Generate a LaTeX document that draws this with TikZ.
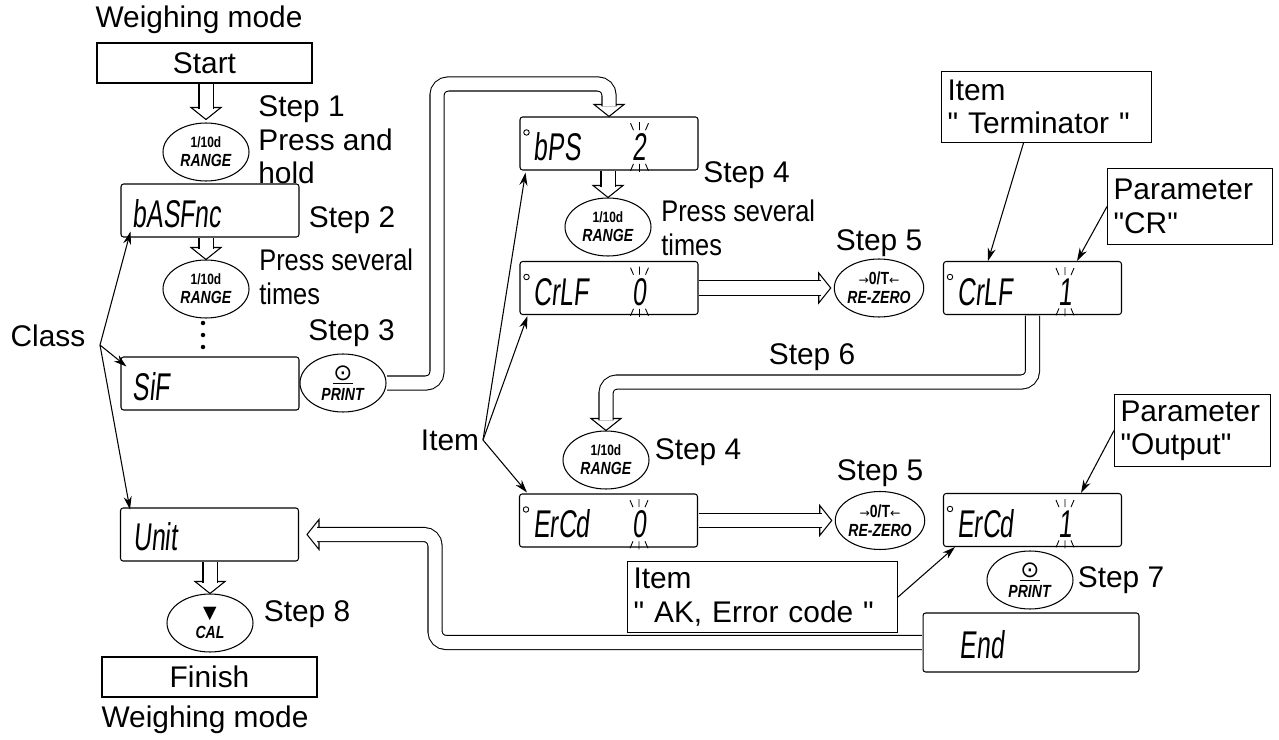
\documentclass[tikz,border=0pt]{standalone}
\usepackage{fontspec}
\setmainfont{Liberation Sans}[Ligatures=TeXOff]
\newfontfamily\narrowfont[FakeStretch=0.85]{Liberation Sans}
\newfontfamily\lcdfont[FakeStretch=0.64, FakeSlant=0.1]{Liberation Sans}
\newfontfamily\keyfont[FakeStretch=0.8]{Liberation Sans}
\newfontfamily\symfont{DejaVu Sans}
\usetikzlibrary{shapes.geometric, arrows.meta, positioning}
\tikzset{
	txt/.style={
		inner sep=0pt,
		font=\fontsize{17}{19}\selectfont
	},
	modebox/.style={
		rectangle,
		draw=black,
		line width=0.6pt,
		minimum width=4.3cm,
		minimum height=0.8cm,
		inner sep=0pt,
		font=\fontsize{17}{19}\selectfont
	},
	display/.style={
		rectangle,
		rounded corners=1.5pt,
		draw=black,
		line width=0.6pt,
		minimum width=3.56cm,
		minimum height=1.06cm,
		inner sep=0pt
	},
	lcd/.style={
		inner sep=0pt,
		anchor=base west,
		font=\lcdfont\fontsize{22}{22}\selectfont
	},
	key/.style={
		ellipse,
		draw=black,
		line width=0.6pt,
		minimum width=1.72cm,
		minimum height=1.16cm,
		inner sep=0pt,
		align=center,
		font=\keyfont\bfseries\fontsize{10}{11}\selectfont
	},
	note/.style={
		rectangle,
		draw=black,
		line width=0.6pt,
		anchor=north west,
		align=left,
		inner xsep=0.12cm,
		inner ysep=0.1cm,
		font=\fontsize{17}{19}\selectfont
	},
	arrow/.style={
		-{Stealth[length=0.26cm, width=0.16cm]},
		line width=0.6pt
	},
	hollow/.style={
		line width=0.6pt,
		double=white,
		double distance=7.4pt,
		rounded corners=0.22cm,
		shorten <=0.4pt
	},
	blink/.style={
		line width=0.5pt
	},
	head/.pic={
		\draw[line width=0.6pt, fill=white] (-15,-12) -- (15,-12) -- (0,0) -- cycle;
	}
}
\newcommand{\blinkmarks}[1]{%
	\draw[blink] ([shift={(0,-3)}]#1.north) -- ++(0,-8)
		([shift={(-6,-3)}]#1.north) -- ++(-3,-7)
		([shift={(6,-3)}]#1.north) -- ++(3,-7)
		([shift={(0,3)}]#1.south) -- ++(0,8)
		([shift={(-6,3)}]#1.south) -- ++(-3,7)
		([shift={(6,3)}]#1.south) -- ++(3,7);}

\begin{document}
\begin{tikzpicture}[x=0.02cm, y=-0.02cm]
	\useasboundingbox (0,0) rectangle (1279,740);

	% left column
	\node[txt] (modeA) at (199,20) {Weighing mode};
	\node[modebox] (start) at (204.5,63) {Start};
	\node[key] (rng1) at (206,152) {{\fontsize{8.5}{9}\selectfont 1/10d}\\\textit{RANGE}};
	\node[txt, anchor=west, align=left] (step1) at (258,140) {Step 1\\Press and\\hold};
	\node[display] (basf) at (210,210.5) {};
	\node[txt, right=0.18cm of basf, yshift=-0.2cm] (step2) {Step 2};
	\node[key] (rng2) at (206,289) {{\fontsize{8.5}{9}\selectfont 1/10d}\\\textit{RANGE}};
	\node[txt, anchor=west, align=left, font=\narrowfont\fontsize{17}{19}\selectfont] (press2) at (259,277) {Press several\\times};
	\foreach \y in {323,335,347}
		\fill (203,\y) circle (0.045cm);
	\node[txt, anchor=west] (step3) at (308,333) {Step 3};
	\node[display] (sif) at (210,383.5) {};
	\node[key] (prt1) at (343,383) {{\symfont\mdseries\fontsize{13}{12}\selectfont\underline{⊙}}\\\textit{PRINT}};
	\node[txt] (class) at (48,336) {Class};
	\coordinate (classfork) at (100,345);
	\node[display] (unit) at (209.5,534.5) {};
	\node[key] (cal) at (210,623) {{\symfont\mdseries ▼}\\\textit{CAL}};
	\node[txt, right=0.2cm of cal, yshift=0.18cm] (step8) {Step 8};
	\node[modebox] (finish) at (209.5,677) {Finish};
	\node[txt] (modeB) at (205,720) {Weighing mode};

	% middle column
	\node[display] (bps) at (609,143.5) {};
	\node[txt, anchor=west] (step4a) at (703,175) {Step 4};
	\node[txt, anchor=west, align=left, font=\narrowfont\fontsize{17}{19}\selectfont] (press4) at (661,228) {Press several\\times};
	\node[key] (rng3) at (608,227) {{\fontsize{8.5}{9}\selectfont 1/10d}\\\textit{RANGE}};
	\node[display] (crlf0) at (609,288) {};
	\node[txt] (step5a) at (879,243) {Step 5};
	\node[key] (rez1) at (879,288) {{\symfont\mdseries\fontsize{7}{8}\selectfont →}0/T{\symfont\mdseries\fontsize{7}{8}\selectfont ←}\\\textit{RE-ZERO}};
	\node[txt] (step6) at (812,357) {Step 6};
	\node[key] (rng4) at (606,460) {{\fontsize{8.5}{9}\selectfont 1/10d}\\\textit{RANGE}};
	\node[txt, right=0.1cm of rng4, yshift=0.16cm] (step4b) {Step 4};
	\node[txt] (item) at (450,440) {Item};
	\coordinate (itemfork) at (483,440);
	\node[display] (ercd0) at (608.5,520.5) {};
	\node[txt] (step5b) at (880,473) {Step 5};
	\node[key] (rez2) at (880,520.5) {{\symfont\mdseries\fontsize{7}{8}\selectfont →}0/T{\symfont\mdseries\fontsize{7}{8}\selectfont ←}\\\textit{RE-ZERO}};
	\node[note, text width=5.16cm, minimum height=1.42cm] (itemak) at (627,561) {Item\\" AK, Error code "};

	% right column
	\node[note, text width=3.96cm, minimum height=1.42cm] (term) at (941,71) {Item\\" Terminator "};
	\node[note, text width=3.06cm, minimum height=1.52cm] (parcr) at (1107,168) {Parameter\\"CR"};
	\node[display] (crlf1) at (1032.5,288) {};
	\node[note, text width=2.88cm, minimum height=1.44cm] (parout) at (1114,394) {Parameter\\"Output"};
	\node[display] (ercd1) at (1032.5,520) {};
	\node[key] (prt2) at (1030,580) {{\symfont\mdseries\fontsize{13}{12}\selectfont\underline{⊙}}\\\textit{PRINT}};
	\node[txt, right=0.08cm of prt2] (step7) {Step 7};
	\node[display, minimum width=4.32cm, minimum height=1.18cm] (end) at (1031,642.5) {};

	% display texts
	\node[lcd] (basfT) at ([shift={(12,-10)}]basf.south west) {bASFnc};
	\node[lcd] (sifT) at ([shift={(12,-10)}]sif.south west) {SiF};
	\node[lcd] (unitT) at ([shift={(13,-11)}]unit.south west) {Unit};
	\node[lcd] (bpsT) at ([shift={(14,-10)}]bps.south west) {bPS};
	\node[lcd, anchor=base] (bpsD) at ([shift={(120,-10)}]bps.south west) {2};
	\node[lcd] (crlf0T) at ([shift={(14,-10)}]crlf0.south west) {CrLF};
	\node[lcd, anchor=base] (crlf0D) at ([shift={(120,-10)}]crlf0.south west) {0};
	\node[lcd] (crlf1T) at ([shift={(14,-10)}]crlf1.south west) {CrLF};
	\node[lcd, anchor=base] (crlf1D) at ([shift={(122,-10)}]crlf1.south west) {1};
	\node[lcd] (ercd0T) at ([shift={(14,-10)}]ercd0.south west) {ErCd};
	\node[lcd, anchor=base] (ercd0D) at ([shift={(120,-10)}]ercd0.south west) {0};
	\node[lcd] (ercd1T) at ([shift={(14,-10)}]ercd1.south west) {ErCd};
	\node[lcd, anchor=base] (ercd1D) at ([shift={(122,-10)}]ercd1.south west) {1};
	\node[lcd] (endT) at ([shift={(37,-14)}]end.south west) {End};
	\foreach \d in {bps,crlf0,crlf1,ercd0,ercd1}
		\draw[line width=0.5pt] ([shift={(7,16)}]\d.north west) circle (0.055cm);
	\foreach \d in {bpsD,crlf0D,crlf1D,ercd0D,ercd1D}
		{\blinkmarks{\d}}

	% hollow arrows
	\pic at ([shift={(0,-3)}]rng1.north) {head};
	\draw[hollow] (start.south -| rng1) -- ([shift={(0,-13)}]rng1.north);
	\pic at (rng2.north) {head};
	\draw[hollow] (basf.south -| rng2) -- ([shift={(0,-10)}]rng2.north);
	\pic at (cal.north) {head};
	\draw[hollow] (unit.south -| cal) -- ([shift={(0,-10)}]cal.north);
	\pic at (rng3.north) {head};
	\draw[hollow] (bps.south -| rng3) -- ([shift={(0,-10)}]rng3.north);
	\pic[rotate=90] at ([shift={(-3,0)}]rez1.west) {head};
	\draw[hollow] (crlf0.east) -- ([shift={(-13,0)}]rez1.west);
	\pic[rotate=90] at ([shift={(-3,0)}]rez2.west) {head};
	\draw[hollow] (ercd0.east) -- ([shift={(-13,0)}]rez2.west);

	% step 3: print goes over to the baud rate item
	\coordinate (loop3) at (437,84);
	\pic at (bps.north) {head};
	\draw[hollow] (prt1.east) -| (loop3) -| ([shift={(0,-10)}]bps.north);

	% step 6: back to the next item
	\coordinate (loop6) at (800,382);
	\pic at (rng4.north) {head};
	\draw[hollow] (crlf1.south) |- (loop6) -| ([shift={(0,-10)}]rng4.north);

	% end returns to the unit class
	\coordinate (back) at (435,536);
	\pic[rotate=-90] at ([shift={(8,0)}]unit.east) {head};
	\draw[hollow] (end.west) -| (back |- unit.east) -- ([shift={(18,0)}]unit.east);

	% pointers
	\draw[arrow] (classfork) -- ([shift={(10,-6)}]basf.south west);
	\draw[arrow] (classfork) -- ([shift={(6,10)}]sif.north west);
	\draw[arrow] (classfork) -- ([shift={(10,2)}]unit.north west);
	\draw[arrow] (itemfork) -- ([shift={(6,2)}]bps.south west);
	\draw[arrow] (itemfork) -- ([shift={(8,1)}]crlf0.south west);
	\draw[arrow] (itemfork) -- ([shift={(8,-1)}]ercd0.north west);
	\draw[arrow] ([shift={(-23,0)}]term.south) -- ([shift={(45,0)}]crlf1.north west);
	\draw[arrow] (parcr.west) -- ([shift={(134,0)}]crlf1.north west);
	\draw[arrow] (parout.west) -- ([shift={(138,0)}]ercd1.north west);
	\draw[arrow] (itemak.east) -- ([shift={(12,0)}]ercd1.south west);

\end{tikzpicture}
\end{document}
